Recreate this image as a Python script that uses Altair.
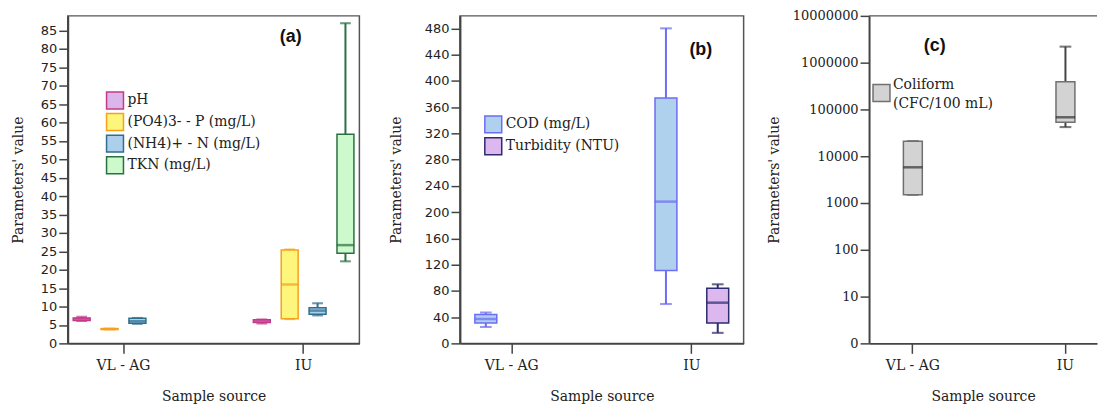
import altair as alt
import pandas as pd

sources = ["VL - AG", "IU"]

# ---- panel (a) ----
a_params = ["pH", "(PO4)3- - P (mg/L)", "(NH4)+ - N (mg/L)", "TKN (mg/L)"]
a_fill = ["#dbb6ea", "#fdf57c", "#acd0ec", "#cdfacc"]
a_stroke = ["#c4398a", "#f6a11c", "#2f6f8c", "#2a7042"]
a_source = ["VL - AG", "VL - AG", "VL - AG", "IU", "IU", "IU", "IU"]
a_param = ["pH", "(PO4)3- - P (mg/L)", "(NH4)+ - N (mg/L)",
           "pH", "(PO4)3- - P (mg/L)", "(NH4)+ - N (mg/L)", "TKN (mg/L)"]
a_min = [6.1, 3.8, 5.3, 5.4, 6.6, 7.6, 22.3]
a_q1 = [6.2, 3.8, 5.5, 5.7, 6.7, 7.9, 24.5]
a_med = [6.6, 3.9, 6.0, 6.1, 16.0, 8.9, 26.7]
a_q3 = [6.9, 4.0, 6.8, 6.4, 25.4, 9.7, 56.8]
a_max = [7.2, 4.0, 6.9, 6.5, 25.5, 10.9, 87.0]
a_ticks = list(range(0, 90, 5))

# ---- panel (b) ----
b_params = ["COD (mg/L)", "Turbidity (NTU)"]
b_fill = ["#b0d1ee", "#ddb8ee"]
b_stroke = ["#6c6cf4", "#2c2c6e"]
b_source = ["VL - AG", "IU", "IU"]
b_param = ["COD (mg/L)", "COD (mg/L)", "Turbidity (NTU)"]
b_min = [25, 60, 16]
b_q1 = [31, 111, 31]
b_med = [37, 216, 62]
b_q3 = [44, 374, 84]
b_max = [47, 480, 90]
b_ticks = list(range(0, 481, 40))

# ---- panel (c) ----
c_params = ["Coliform"]
c_legend_text = ["Coliform", "(CFC/100 mL)"]
c_fill = ["#d3d3d3"]
c_stroke = ["#707070"]
c_source = ["VL - AG", "IU"]
c_param = ["Coliform", "Coliform"]
c_min = [1500, 42000]
c_q1 = [1500, 53000]
c_med = [5800, 68000]
c_q3 = [21000, 390000]
c_max = [21000, 2200000]
c_ticks = [1, 10, 100, 1000, 10000, 100000, 1000000, 10000000]

H = 329
FRAME = "#555555"
AX = "#444444"
SERIF = "DejaVu Serif"
SANS = "DejaVu Sans"


def make_df(src, par, mn, q1, md, q3, mx):
    return pd.DataFrame({"source": src, "param": par, "min": mn, "q1": q1,
                         "med": md, "q3": q3, "max": mx})


def panel(df, params, fills, strokes, width, box_w, cap_w, x_scale, y_scale,
          y_axis, label, label_xy, offset=True, whisker_color=None,
          median_color=None, frame=True, top_pad_text=True, extra=None,
          vl_legend=None, manual_legend=None):
    x_axis = alt.Axis(title="Sample source", labelAngle=0, labelFont=SERIF,
                      labelFontSize=14, labelColor="#222", tickSize=10,
                      tickWidth=1.5, tickColor=AX, domainColor=AX,
                      domainWidth=2, labelPadding=5, titleFont=SERIF,
                      titleFontSize=14, titleFontWeight="normal",
                      titleColor="#222", titlePadding=17)

    def X():
        return alt.X("source:N", sort=sources, scale=x_scale, axis=x_axis)

    def Y(f):
        return alt.Y(f, scale=y_scale, axis=y_axis)

    enc = {}
    if offset:
        enc["xOffset"] = alt.XOffset("param:N", sort=params,
                                     scale=alt.Scale(domain=params,
                                                     paddingInner=0,
                                                     paddingOuter=0))

    def S(leg):
        return alt.Stroke("param:N",
                          scale=alt.Scale(domain=params, range=strokes),
                          legend=leg)

    def F(leg):
        return alt.Fill("param:N", scale=alt.Scale(domain=params, range=fills),
                        legend=leg)

    wcol = S(None) if whisker_color is None else alt.value(whisker_color)
    mcol = S(None) if median_color is None else alt.value(median_color)

    base = alt.Chart(df)
    whisk = base.mark_rule(strokeWidth=2).encode(
        x=X(), y=Y("min:Q"), y2="max:Q", stroke=wcol, **enc)
    cap_lo = base.mark_tick(size=cap_w, thickness=0.3, fill="transparent",
                            strokeWidth=1.8).encode(
        x=X(), y=Y("min:Q"), stroke=wcol, **enc)
    cap_hi = base.mark_tick(size=cap_w, thickness=0.3, fill="transparent",
                            strokeWidth=1.8).encode(
        x=X(), y=Y("max:Q"), stroke=wcol, **enc)
    box = base.mark_bar(size=box_w, strokeWidth=1.5).encode(
        x=X(), y=Y("q1:Q"), y2="q3:Q", fill=F(vl_legend), stroke=S(vl_legend),
        **enc)
    med = base.mark_tick(size=box_w - 1.5, thickness=0.5, fill="transparent",
                         strokeWidth=2).encode(
        x=X(), y=Y("med:Q"), stroke=mcol, **enc)
    lab = alt.Chart(pd.DataFrame({"t": [label]})).mark_text(
        font="Liberation Sans", fontWeight="bold", fontSize=18, color="#111"
    ).encode(text="t:N", x=alt.value(label_xy[0]), y=alt.value(label_xy[1]))
    layers = [whisk, cap_lo, cap_hi, box, med, lab]
    if extra is not None:
        layers.append(extra)
    if top_pad_text:
        pad = alt.Chart(pd.DataFrame({"t": ["0"]})).mark_text(
            fontSize=12, opacity=0, baseline="middle", font=SERIF
        ).encode(text="t:N", x=alt.value(-20), y=alt.value(0))
        layers.append(pad)
    if not frame:
        top = alt.Chart(pd.DataFrame({"t": [0]})).mark_rule(
            color=FRAME, strokeWidth=1.5
        ).encode(x=alt.value(0), x2=alt.value(width), y=alt.value(0))
        layers.append(top)
    ch = alt.layer(*layers)
    if manual_legend is not None:
        sym_x, txt_x, y_range = manual_legend
        ldf = pd.DataFrame({"param": params})

        def LY():
            return alt.Y("param:N", sort=params, axis=None,
                         scale=alt.Scale(type="point", domain=params,
                                         range=y_range, padding=0))

        sq = alt.Chart(ldf).mark_square(size=289, strokeWidth=1.5, opacity=1,
                                        filled=True).encode(
            x=alt.value(sym_x), y=LY(), fill=F(None), stroke=S(None))
        tx = alt.Chart(ldf).mark_text(
            align="left", baseline="middle", font=SERIF, fontSize=14,
            color="#222").encode(x=alt.value(txt_x), y=LY(), text="param:N")
        ch = alt.layer(ch, sq, tx).resolve_scale(y="independent")
    ch = ch.properties(width=width, height=H)
    if not frame:
        ch = ch.properties(view=alt.ViewBackground(stroke="transparent"))
    return ch


def y_axis(values, font, title_pad, label_expr=None):
    kw = dict(values=values, title="Parameters' value", labelFont=font,
              labelFontSize=13, labelColor="#222", tickSize=9, tickWidth=1.5,
              tickColor=AX, domainColor=AX, domainWidth=2, labelPadding=2,
              grid=False, titleFont=SERIF, titleFontSize=14,
              titleFontWeight="normal", titleColor="#222",
              titlePadding=title_pad)
    if label_expr:
        kw["labelExpr"] = label_expr
    return alt.Axis(**kw)


dfa = make_df(a_source, a_param, a_min, a_q1, a_med, a_q3, a_max)
dfb = make_df(b_source, b_param, b_min, b_q1, b_med, b_q3, b_max)
dfc = make_df(c_source, c_param, c_min, c_q1, c_med, c_q3, c_max)

WA, WB, WC = 293, 285, 229

pa = panel(dfa, a_params, a_fill, a_stroke, WA, 17, 9,
           alt.Scale(paddingInner=0.381, paddingOuter=0),
           alt.Scale(domain=[0, 89], nice=False, zero=True),
           y_axis(a_ticks, SANS, 15), "(a)", (224, 21),
           manual_legend=(47.5, 60, [85, 150]))

pb = panel(dfb, b_params, b_fill, b_stroke, WB, 22, 10,
           alt.Scale(paddingInner=0.425, paddingOuter=0),
           alt.Scale(domain=[0, 499], nice=False, zero=True),
           y_axis(b_ticks, SANS, 21), "(b)", (242, 34),
           manual_legend=(33.5, 46, [109, 131]))

c_text = alt.Chart(pd.DataFrame({"t": [0]})).mark_text(
    text=c_legend_text, font=SERIF, fontSize=14, color="#222", align="left",
    baseline="middle", lineHeight=20
).encode(x=alt.value(24), y=alt.value(69))

c_leg = alt.Legend(title=None, orient="none", legendX=3, legendY=68,
                   padding=0, symbolType="square", symbolSize=289,
                   symbolStrokeWidth=1.5, labelExpr="''")

pc = panel(dfc, c_params, c_fill, c_stroke, WC, 19, 10,
           alt.Scale(paddingInner=0.5864, paddingOuter=0.0401, align=1),
           alt.Scale(type="log", domain=[1, 10000000], nice=False),
           y_axis(c_ticks, SERIF, 11,
                  "datum.value == 1 ? '0' : format(datum.value, 'd')"),
           "(c)", (66, 30),
           offset=False, whisker_color="#444444", median_color="#333333",
           frame=False, top_pad_text=False, extra=c_text, vl_legend=c_leg)

res = dict(fill="independent", stroke="independent", xOffset="independent")

left = alt.hconcat(pa, pb, spacing=28).resolve_scale(**res).resolve_legend(
    fill="independent", stroke="independent")

chart = alt.hconcat(left, pc, spacing=22).properties(
    padding={"left": 2, "top": 0, "right": 0, "bottom": 0}
).resolve_scale(**res).resolve_legend(
    fill="independent", stroke="independent"
).configure_view(
    stroke=FRAME, strokeWidth=1.5
)

chart.save("out.html", embed_options={"renderer": "svg", "actions": False})
